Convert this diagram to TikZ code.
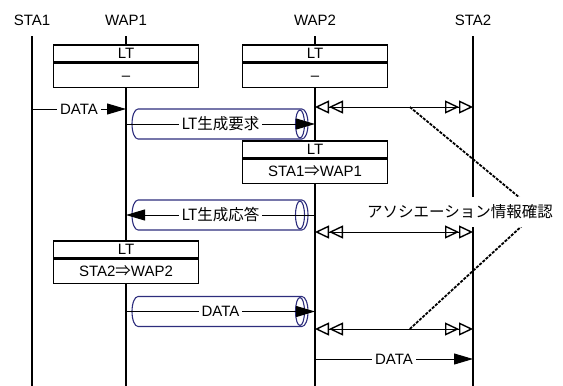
\documentclass[tikz,border=0pt]{standalone}
\usepackage{fontspec}
\setmainfont{Liberation Sans}[Scale=1.5]
\newfontfamily\jpfont{Noto Sans CJK JP}[Scale=1.55]
\usepackage{xcolor}
\usetikzlibrary{arrows.meta, positioning, calc}
\definecolor{tubeblue}{RGB}{45,45,125}

\begin{document}
\begin{tikzpicture}[
    x=1pt, y=-1pt,
    life/.style={line width=1.3pt},
    msg/.style={line width=1pt, -{Triangle[length=19pt,width=11pt]}},
    assoc/.style={line width=1pt,
        {Triangle[open,length=14pt,width=13pt,sep=0pt,line width=1.4pt]Triangle[open,length=14pt,width=13pt,sep=0pt,line width=1.4pt]}-{Triangle[open,length=14pt,width=13pt,sep=0pt,line width=1.4pt]Triangle[open,length=14pt,width=13pt,sep=0pt,line width=1.4pt]}},
    lbl/.style={fill=white, inner xsep=3pt, inner ysep=1pt},
    ltbox/.style={draw, line width=1.2pt, fill=white, minimum width=145pt,
        minimum height=17pt, inner sep=0pt, text height=10.7pt, text depth=0pt},
    ltval/.style={ltbox, minimum height=24pt},
    tube/.style={draw=tubeblue, line width=1.1pt},
    note/.style={dash pattern=on 3pt off 1.3pt, line width=1.8pt}
]
\useasboundingbox (0,0) rectangle (563,386);

% Lifelines
\node (sta1) at (32,20) {STA1};
\node (wap1) at (126,20) {WAP1};
\node (wap2) at (315,20) {WAP2};
\node (sta2) at (473,20) {STA2};
\coordinate (top) at (0,36);
\coordinate (bot) at (0,386);
\foreach \n in {sta1,wap1,wap2,sta2}
    \draw[life] (\n |- top) -- (\n |- bot);

% Rows
\coordinate (m1) at (0,109);
\coordinate (a1) at (0,107);
\coordinate (t1) at (0,124);
\coordinate (t2) at (0,215);
\coordinate (a2) at (0,232);
\coordinate (t3) at (0,311.5);
\coordinate (a3) at (0,329);
\coordinate (m2) at (0,359);

% Association note
\coordinate (c1) at ($(wap2 |- a1)!0.6!(sta2 |- a1)$);
\coordinate (c3) at ($(wap2 |- a3)!0.6!(sta2 |- a3)$);
\coordinate (hub) at (537,212);
\draw[note] (c1) -- (hub);
\draw[note] (c3) -- (hub);
\node[fill=white, font=\jpfont, inner xsep=2pt, minimum height=30pt] (assocnote) at (460,212) {アソシエーション情報確認};

% Tubes
\foreach \y in {124,215,311.5} {
    \draw[tube] (138,\y-15) -- (302,\y-15)
        arc[start angle=-90, end angle=90, x radius=6, y radius=15]
        -- (138,\y+15)
        arc[start angle=90, end angle=270, x radius=6, y radius=15] -- cycle;
    \draw[tube] (300,\y) ellipse[x radius=4.5, y radius=14];
}

% LT boxes
\node[ltbox] (lt1) at (126,53.5) {LT};
\node[ltval, below=0pt of lt1] (lt1v) {–};
\node[ltbox] (lt2) at (315,53.5) {LT};
\node[ltval, below=0pt of lt2] (lt2v) {–};
\node[ltbox] (lt3) at (315,149.5) {LT};
\node[ltval, below=0pt of lt3] (lt3v) {STA1{\jpfont ⇒}WAP1};
\node[ltbox] (lt4) at (126,249.5) {LT};
\node[ltval, below=0pt of lt4] (lt4v) {STA2{\jpfont ⇒}WAP2};

% Messages
\draw[msg] (sta1 |- m1) -- node[lbl] {DATA} (wap1 |- m1);
\draw[msg] (wap1 |- t1) -- node[lbl, font=\jpfont] {LT生成要求} (wap2 |- t1);
\draw[msg] (wap2 |- t2) -- node[lbl, font=\jpfont] {LT生成応答} (wap1 |- t2);
\draw[msg] (wap1 |- t3) -- node[lbl] {DATA} (wap2 |- t3);
\draw[msg] (wap2 |- m2) -- node[lbl] {DATA} (sta2 |- m2);
\foreach \r in {a1,a2,a3}
    \draw[assoc] (wap2 |- \r) -- (sta2 |- \r);

\end{tikzpicture}
\end{document}
